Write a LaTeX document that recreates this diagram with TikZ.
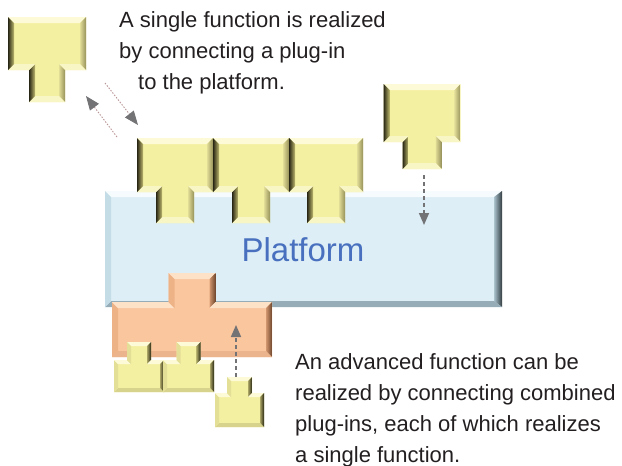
\documentclass[tikz,border=0pt]{standalone}
\usepackage{fontspec}
\setmainfont{Liberation Sans}
\usetikzlibrary{arrows.meta}

\definecolor{txtgray}{RGB}{35,31,32}
\definecolor{pfblue}{RGB}{72,112,190}
\definecolor{arrowgray}{RGB}{115,115,118}
\definecolor{dotpink}{RGB}{185,150,150}

\tikzset{
  yl-base/.style={fill={rgb,255:red,244;green,240;blue,162}},
  yl-top/.style={fill={rgb,255:red,252;green,250;blue,215}},
  yl-bot/.style={fill={rgb,255:red,249;green,246;blue,198}},
  yl-left/.style={left color={rgb,255:red,40;green,38;blue,20}, right color={rgb,255:red,190;green,185;blue,110}},
  yl-right/.style={left color={rgb,255:red,225;green,220;blue,150}, right color={rgb,255:red,150;green,145;blue,90}},
  ys-base/.style={fill={rgb,255:red,244;green,240;blue,162}},
  ys-top/.style={fill={rgb,255:red,252;green,250;blue,215}},
  ys-bot/.style={fill={rgb,255:red,215;green,210;blue,140}},
  ys-left/.style={fill={rgb,255:red,228;green,223;blue,150}},
  ys-right/.style={left color={rgb,255:red,170;green,165;blue,100}, right color={rgb,255:red,40;green,38;blue,20}},
  or-base/.style={fill={rgb,255:red,250;green,198;blue,158}},
  or-top/.style={fill={rgb,255:red,253;green,226;blue,200}},
  or-bot/.style={fill={rgb,255:red,235;green,180;blue,140}},
  or-left/.style={fill={rgb,255:red,238;green,178;blue,135}},
  or-right/.style={left color={rgb,255:red,210;green,150;blue,110}, right color={rgb,255:red,110;green,70;blue,45}},
  pf-base/.style={fill={rgb,255:red,221;green,238;blue,246}},
  pf-top/.style={fill={rgb,255:red,246;green,251;blue,253}},
  pf-bot/.style={fill={rgb,255:red,150;green,172;blue,182}},
  pf-left/.style={fill={rgb,255:red,195;green,220;blue,230}},
  pf-right/.style={left color={rgb,255:red,170;green,195;blue,205}, right color={rgb,255:red,50;green,60;blue,65}},
  linkdash/.style={draw=arrowgray, line width=1.6pt, dash pattern=on 4pt off 3pt,
    -{Triangle[length=12pt,width=10pt,color=arrowgray]}},
  linkdot/.style={draw=dotpink, line width=0.9pt, dash pattern=on 1.5pt off 1.5pt,
    -{Triangle[length=14pt,width=11pt,color=arrowgray]}},
  txt/.style={font=\fontsize{22}{31}\selectfont, text=txtgray, align=left, inner sep=0pt}
}

% head on top, stem below: {cx}{top}{head w}{head h}{stem w}{stem h}{palette}{bevel}
\newcommand{\plugT}[8]{%
  \pgfmathsetmacro\pxa{#1-#3/2}\pgfmathsetmacro\pxb{#1+#3/2}%
  \pgfmathsetmacro\psa{#1-#5/2}\pgfmathsetmacro\psb{#1+#5/2}%
  \pgfmathsetmacro\pya{#2}\pgfmathsetmacro\pyb{#2+#4}\pgfmathsetmacro\pyc{#2+#4+#6}%
  \def\bv{#8}%
  \path[#7-base] (\pxa,\pya) -- (\pxb,\pya) -- (\pxb,\pyb) -- (\psb,\pyb) -- (\psb,\pyc)
    -- (\psa,\pyc) -- (\psa,\pyb) -- (\pxa,\pyb) -- cycle;
  \path[#7-top] (\pxa,\pya) -- (\pxb,\pya) -- (\pxb-\bv,\pya+\bv) -- (\pxa+\bv,\pya+\bv) -- cycle;
  \path[#7-right] (\pxb,\pya) -- (\pxb,\pyb) -- (\pxb-\bv,\pyb-\bv) -- (\pxb-\bv,\pya+\bv) -- cycle;
  \path[#7-bot] (\pxb,\pyb) -- (\psb,\pyb) -- (\psb-\bv,\pyb-\bv) -- (\pxb-\bv,\pyb-\bv) -- cycle;
  \path[#7-right] (\psb,\pyb) -- (\psb,\pyc) -- (\psb-\bv,\pyc-\bv) -- (\psb-\bv,\pyb-\bv) -- cycle;
  \path[#7-bot] (\psb,\pyc) -- (\psa,\pyc) -- (\psa+\bv,\pyc-\bv) -- (\psb-\bv,\pyc-\bv) -- cycle;
  \path[#7-left] (\psa,\pyc) -- (\psa,\pyb) -- (\psa+\bv,\pyb-\bv) -- (\psa+\bv,\pyc-\bv) -- cycle;
  \path[#7-bot] (\psa,\pyb) -- (\pxa,\pyb) -- (\pxa+\bv,\pyb-\bv) -- (\psa+\bv,\pyb-\bv) -- cycle;
  \path[#7-left] (\pxa,\pyb) -- (\pxa,\pya) -- (\pxa+\bv,\pya+\bv) -- (\pxa+\bv,\pyb-\bv) -- cycle;
}

% stem on top, head below: {cx}{top}{stem w}{stem h}{head w}{head h}{palette}{bevel}
\newcommand{\sockT}[8]{%
  \pgfmathsetmacro\psa{#1-#3/2}\pgfmathsetmacro\psb{#1+#3/2}%
  \pgfmathsetmacro\pxa{#1-#5/2}\pgfmathsetmacro\pxb{#1+#5/2}%
  \pgfmathsetmacro\pya{#2}\pgfmathsetmacro\pyb{#2+#4}\pgfmathsetmacro\pyc{#2+#4+#6}%
  \def\bv{#8}%
  \path[#7-base] (\psa,\pya) -- (\psb,\pya) -- (\psb,\pyb) -- (\pxb,\pyb) -- (\pxb,\pyc)
    -- (\pxa,\pyc) -- (\pxa,\pyb) -- (\psa,\pyb) -- cycle;
  \path[#7-top] (\psa,\pya) -- (\psb,\pya) -- (\psb-\bv,\pya+\bv) -- (\psa+\bv,\pya+\bv) -- cycle;
  \path[#7-right] (\psb,\pya) -- (\psb,\pyb) -- (\psb-\bv,\pyb+\bv) -- (\psb-\bv,\pya+\bv) -- cycle;
  \path[#7-top] (\psb,\pyb) -- (\pxb,\pyb) -- (\pxb-\bv,\pyb+\bv) -- (\psb-\bv,\pyb+\bv) -- cycle;
  \path[#7-right] (\pxb,\pyb) -- (\pxb,\pyc) -- (\pxb-\bv,\pyc-\bv) -- (\pxb-\bv,\pyb+\bv) -- cycle;
  \path[#7-bot] (\pxb,\pyc) -- (\pxa,\pyc) -- (\pxa+\bv,\pyc-\bv) -- (\pxb-\bv,\pyc-\bv) -- cycle;
  \path[#7-left] (\pxa,\pyc) -- (\pxa,\pyb) -- (\pxa+\bv,\pyb+\bv) -- (\pxa+\bv,\pyc-\bv) -- cycle;
  \path[#7-top] (\pxa,\pyb) -- (\psa,\pyb) -- (\psa+\bv,\pyb+\bv) -- (\pxa+\bv,\pyb+\bv) -- cycle;
  \path[#7-left] (\psa,\pyb) -- (\psa,\pya) -- (\psa+\bv,\pya+\bv) -- (\psa+\bv,\pyb+\bv) -- cycle;
}

\begin{document}
\begin{tikzpicture}[x=1pt, y=-1pt]
  \useasboundingbox (0,0) rectangle (622,466);

  % platform
  \path[pf-base] (105,191) rectangle (502,307);
  \path[pf-top] (105,191) -- (502,191) -- (496,197) -- (111,197) -- cycle;
  \path[pf-right] (502,191) -- (502,307) -- (494,301) -- (494,197) -- cycle;
  \path[pf-bot] (502,307) -- (105,307) -- (111,301) -- (494,301) -- cycle;
  \path[pf-left] (105,307) -- (105,191) -- (111,197) -- (111,301) -- cycle;
  \node[font=\fontsize{33}{33}\selectfont, text=pfblue] (pflabel) at (303,250) {Platform};

  % plug-ins
  \plugT{175}{138}{76}{54}{38}{31}{yl}{6}
  \plugT{251}{138}{76}{54}{38}{31}{yl}{6}
  \plugT{326}{138}{74}{54}{38}{31}{yl}{6}
  \plugT{422}{84}{77}{58}{39}{27}{yl}{6}
  \plugT{47}{17}{78}{53}{36}{32}{yl}{6}

  % combined plug-in
  \sockT{192}{273}{47}{29}{160}{55}{or}{6}
  \sockT{139}{342}{24}{18}{50}{32}{ys}{4}
  \sockT{188.5}{342}{24}{18}{51}{32}{ys}{4}
  \sockT{239.5}{377}{25}{16}{49}{34}{ys}{4}

  \coordinate (ejtail) at (117,137);
  \coordinate (ejtip) at (86,96);
  \coordinate (intail) at (105,83);
  \coordinate (intip) at (138,125);
  \coordinate (droptail) at (424,175);
  \coordinate (droptip) at (424,225);
  \coordinate (jointail) at (236,377);
  \coordinate (jointip) at (236,325);
  \draw[linkdot] (ejtail) -- (ejtip);
  \draw[linkdot] (intail) -- (intip);
  \draw[linkdash] (droptail) -- (droptip);
  \draw[linkdash] (jointail) -- (jointip);

  \node[txt, anchor=north west] (notetop) at (119,11)
    {A single function is realized\\by connecting a plug-in\\\hspace*{19pt}to the platform.};
  \node[txt, anchor=north west] (notebottom) at (295,353)
    {An advanced function can be\\realized by connecting combined\\plug-ins, each of which realizes\\a single function.};
\end{tikzpicture}
\end{document}
